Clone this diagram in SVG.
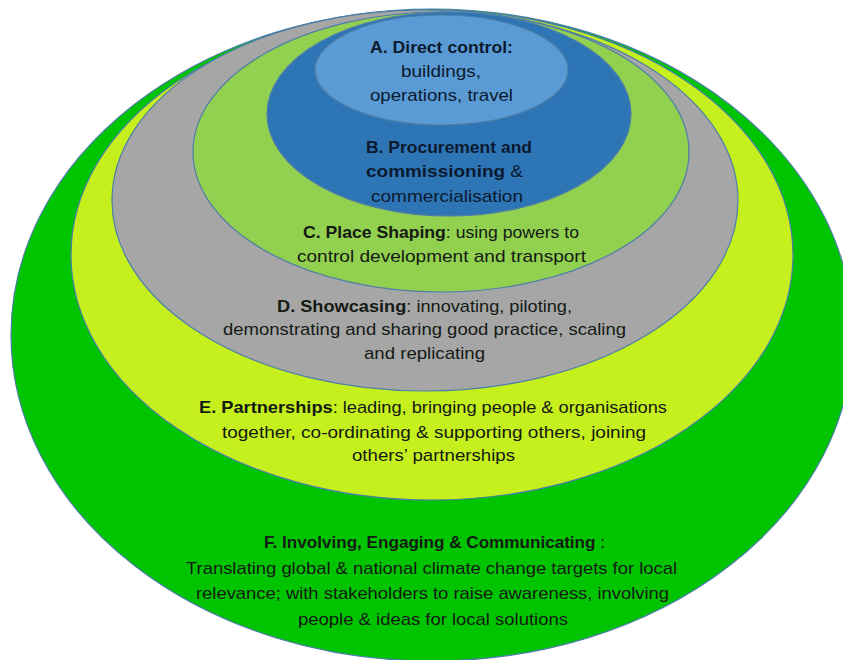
<svg xmlns="http://www.w3.org/2000/svg" width="843" height="660" viewBox="0 0 843 660">
<style>
.ring{stroke:#4d7ea8;stroke-width:1.2;}
text{font-family:"Liberation Sans",Arial,sans-serif;font-size:17px;fill:#141a14;}
.b{font-weight:bold;}
.dk{fill:#0b1a2e;}
</style>
<rect width="843" height="660" fill="#ffffff"/>
<g id="F"><ellipse class="ring" cx="432" cy="335" rx="421" ry="326" fill="#00C400"/></g>
<g id="E"><ellipse class="ring" cx="432" cy="255" rx="361" ry="245" fill="#C6EF1E"/></g>
<g id="D"><ellipse class="ring" cx="425" cy="200.5" rx="313" ry="190.5" fill="#A6A6A6"/></g>
<g id="C"><ellipse class="ring" cx="441" cy="152" rx="248" ry="140" fill="#92D050"/></g>
<g id="B"><ellipse class="ring" cx="449" cy="114" rx="182" ry="102" fill="#2E75B6"/></g>
<g id="A"><ellipse class="ring" cx="441.5" cy="70" rx="126.5" ry="55" fill="#5B9BD5"/></g>
<g id="connectors"/>
<g id="labels">
<g id="label-A">
<text class="b dk" x="370" y="53" textLength="143" lengthAdjust="spacingAndGlyphs" font-size="18">A. Direct control:</text>
<text class="dk" x="401" y="77" textLength="80" lengthAdjust="spacingAndGlyphs" font-size="18">buildings,</text>
<text class="dk" x="370" y="101" textLength="143" lengthAdjust="spacingAndGlyphs" font-size="18">operations, travel</text>
</g>
<g id="label-B">
<text class="b dk" x="366" y="153" textLength="166" lengthAdjust="spacingAndGlyphs" font-size="18">B. Procurement and</text>
<text class="dk" x="366" y="177" textLength="157" lengthAdjust="spacingAndGlyphs" font-size="18"><tspan class="b">commissioning</tspan>  &amp;</text>
<text class="dk" x="371" y="202" textLength="152" lengthAdjust="spacingAndGlyphs" font-size="18">commercialisation</text>
</g>
<g id="label-C">
<text x="303" y="238" textLength="276" lengthAdjust="spacingAndGlyphs"><tspan class="b">C. Place Shaping</tspan>: using powers to</text>
<text x="297" y="262" textLength="289" lengthAdjust="spacingAndGlyphs">control development and transport</text>
</g>
<g id="label-D">
<text x="277" y="312" textLength="295" lengthAdjust="spacingAndGlyphs"><tspan class="b">D. Showcasing</tspan>: innovating, piloting,</text>
<text x="223" y="335" textLength="403" lengthAdjust="spacingAndGlyphs">demonstrating and sharing good practice, scaling</text>
<text x="364" y="359" textLength="121" lengthAdjust="spacingAndGlyphs">and replicating</text>
</g>
<g id="label-E">
<text x="199" y="413" textLength="468" lengthAdjust="spacingAndGlyphs"><tspan class="b">E. Partnerships</tspan>: leading, bringing people &amp; organisations</text>
<text x="222" y="438" textLength="424" lengthAdjust="spacingAndGlyphs">together, co-ordinating &amp; supporting others, joining</text>
<text x="352" y="461" textLength="163" lengthAdjust="spacingAndGlyphs">others’ partnerships</text>
</g>
<g id="label-F">
<text x="264" y="548" textLength="341" lengthAdjust="spacingAndGlyphs"><tspan class="b">F. Involving, Engaging &amp; Communicating</tspan> :</text>
<text x="186" y="574" textLength="491" lengthAdjust="spacingAndGlyphs">Translating global &amp; national climate change targets for local</text>
<text x="196" y="599" textLength="473" lengthAdjust="spacingAndGlyphs">relevance; with stakeholders to raise awareness, involving</text>
<text x="298" y="625" textLength="270" lengthAdjust="spacingAndGlyphs">people &amp; ideas for local solutions</text>
</g>
</g>
</svg>
